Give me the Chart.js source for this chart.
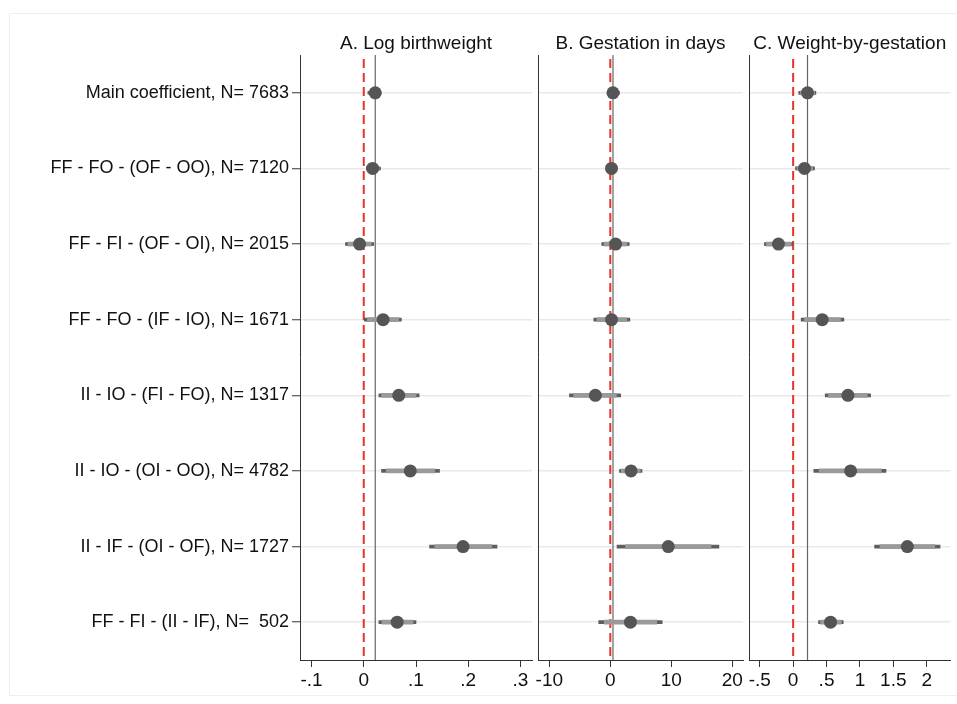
<!DOCTYPE html>
<html>
<head>
<meta charset="utf-8">
<script src="https://cdn.jsdelivr.net/npm/chart.js@4.4.1/dist/chart.umd.min.js"></script>
<style>
  body { margin: 0; background: #fff; }
  #wrap { position: relative; width: 957px; height: 704px; }
  #wrap canvas { position: absolute; left: 0; top: 0; }
</style>
</head>
<body>
<div id="wrap">
  <canvas id="panelA" width="957" height="704"></canvas>
  <canvas id="panelB" width="957" height="704"></canvas>
  <canvas id="panelC" width="957" height="704"></canvas>
</div>
<script>
// rows (top to bottom)
const categories = [
  'Main coefficient, N= 7683',
  'FF - FO - (OF - OO), N= 7120',
  'FF - FI - (OF - OI), N= 2015',
  'FF - FO - (IF - IO), N= 1671',
  'II - IO - (FI - FO), N= 1317',
  'II - IO - (OI - OO), N= 4782',
  'II - IF - (OI - OF), N= 1727',
  'FF - FI - (II - IF), N=  502'
];

// A. Log birthweight
const titleA = 'A. Log birthweight';
const coefA = [0.022, 0.017, -0.008, 0.037, 0.067, 0.089, 0.19, 0.064];
const lo95A = [0.008, 0.005, -0.035, 0.001, 0.029, 0.034, 0.126, 0.029];
const hi95A = [0.033, 0.032, 0.019, 0.072, 0.106, 0.145, 0.255, 0.100];
const lo90A = [0.011, 0.007, -0.030, 0.007, 0.034, 0.043, 0.136, 0.035];
const hi90A = [0.031, 0.029, 0.014, 0.067, 0.100, 0.136, 0.245, 0.094];
const tickValsA = [-0.1, 0, 0.1, 0.2, 0.3];
const tickLabelsA = ['-.1', '0', '.1', '.2', '.3'];

// B. Gestation in days
const titleB = 'B. Gestation in days';
const coefB = [0.44, 0.2, 0.87, 0.2, -2.45, 3.4, 9.5, 3.3];
const lo95B = [-0.5, -0.3, -1.4, -2.7, -6.7, 1.5, 1.1, -1.9];
const hi95B = [1.5, 0.6, 3.1, 3.2, 1.7, 5.2, 17.8, 8.5];
const lo90B = [-0.3, -0.2, -1.0, -2.2, -6.0, 1.8, 2.5, -1.0];
const hi90B = [1.2, 0.5, 2.7, 2.7, 1.0, 4.9, 16.5, 7.6];
const tickValsB = [-10, 0, 10, 20];
const tickLabelsB = ['-10', '0', '10', '20'];

// C. Weight-by-gestation
const titleC = 'C. Weight-by-gestation';
const coefC = [0.215, 0.17, -0.22, 0.435, 0.82, 0.86, 1.71, 0.56];
const lo95C = [0.084, 0.035, -0.43, 0.12, 0.48, 0.31, 1.22, 0.38];
const hi95C = [0.34, 0.32, 0.0, 0.76, 1.16, 1.39, 2.2, 0.75];
const lo90C = [0.11, 0.06, -0.40, 0.17, 0.53, 0.39, 1.30, 0.41];
const hi90C = [0.32, 0.29, -0.03, 0.71, 1.11, 1.32, 2.12, 0.72];
const tickValsC = [-0.5, 0, 0.5, 1, 1.5, 2];
const tickLabelsC = ['-.5', '0', '.5', '1', '1.5', '2'];

const FONT = "Helvetica, 'Liberation Sans', Arial, sans-serif";

// reference lines (zero + main coefficient), title and outer frame
const decor = {
  id: 'decor',
  beforeDatasetsDraw(chart, args, opts) {
    const { ctx, chartArea: a, scales } = chart;
    const x = scales.x;
    ctx.save();
    // main coefficient line
    const xm = x.getPixelForValue(opts.main);
    ctx.strokeStyle = '#666';
    ctx.lineWidth = 1.2;
    ctx.beginPath();
    ctx.moveTo(xm, a.top);
    ctx.lineTo(xm, a.bottom);
    ctx.stroke();
    // zero line
    const x0 = x.getPixelForValue(0);
    ctx.strokeStyle = '#e8322b';
    ctx.lineWidth = 2;
    ctx.setLineDash([9, 5]);
    ctx.beginPath();
    ctx.moveTo(x0, a.top + 4);
    ctx.lineTo(x0, a.bottom);
    ctx.stroke();
    ctx.restore();
  },
  afterDraw(chart, args, opts) {
    const { ctx, chartArea: a } = chart;
    ctx.save();
    ctx.fillStyle = '#111';
    ctx.font = '19px ' + FONT;
    ctx.textAlign = 'center';
    ctx.textBaseline = 'alphabetic';
    ctx.fillText(opts.title, (a.left + a.right) / 2, 49);
    if (opts.frame) {
      ctx.strokeStyle = '#eeeeee';
      ctx.lineWidth = 1;
      ctx.strokeRect(9.5, 13.5, 960, 682);
    }
    ctx.restore();
  }
};

function makePanel(id, p) {
  const range = (lo, hi) => lo.map((v, i) => [v, hi[i]]);
  return new Chart(document.getElementById(id), {
    type: 'bar',
    data: {
      labels: categories,
      datasets: [
        {
          type: 'line', data: p.coef, showLine: false,
          pointRadius: 6.5, pointHoverRadius: 6.5, pointBorderWidth: 0,
          pointBackgroundColor: '#555555', order: 0
        },
        {
          data: range(p.lo90, p.hi90), backgroundColor: '#9a9a9a',
          barThickness: 4, borderWidth: 0, borderSkipped: false, grouped: false, order: 1
        },
        {
          data: range(p.lo95, p.hi95), backgroundColor: '#5e5e5e',
          barThickness: 3, borderWidth: 0, borderSkipped: false, grouped: false, order: 2
        }
      ]
    },
    options: {
      indexAxis: 'y',
      responsive: false,
      animation: false,
      layout: { padding: p.padding },
      plugins: {
        legend: { display: false },
        tooltip: { enabled: false },
        decor: { main: p.coef[0], title: p.title, frame: p.frame }
      },
      scales: {
        x: {
          type: 'linear',
          min: p.min, max: p.max,
          afterBuildTicks: s => { s.ticks = p.tickVals.map(v => ({ value: v })); },
          afterFit: s => { s.height = 44; },
          ticks: {
            autoSkip: false, maxRotation: 0, padding: 2, color: '#111',
            font: { family: FONT, size: 19 },
            callback: (v, i) => p.tickLabels[i]
          },
          grid: { drawOnChartArea: false, drawTicks: true, tickLength: 7, tickColor: '#333', color: '#333' },
          border: { display: true, color: '#333', width: 1 }
        },
        y: {
          type: 'category',
          offset: true,
          afterFit: s => { s.width = p.yWidth; },
          ticks: {
            display: p.showLabels, padding: 3, color: '#111',
            font: { family: FONT, size: 18 }
          },
          grid: {
            offset: false, color: '#e9e9e9', lineWidth: 1.5,
            drawTicks: p.showLabels, tickLength: 8, tickColor: '#333', tickWidth: 1
          },
          border: { display: true, color: '#333', width: 1 }
        }
      }
    },
    plugins: [decor]
  });
}

makePanel('panelA', {
  title: titleA, coef: coefA, lo95: lo95A, hi95: hi95A, lo90: lo90A, hi90: hi90A,
  tickVals: tickValsA, tickLabels: tickLabelsA, min: -0.122, max: 0.322,
  padding: { left: 0, right: 425, top: 55, bottom: 0 }, yWidth: 300, showLabels: true, frame: true
});
makePanel('panelB', {
  title: titleB, coef: coefB, lo95: lo95B, hi95: hi95B, lo90: lo90B, hi90: hi90B,
  tickVals: tickValsB, tickLabels: tickLabelsB, min: -11.85, max: 21.75,
  padding: { left: 538, right: 214, top: 55, bottom: 0 }, yWidth: 0, showLabels: false, frame: false
});
makePanel('panelC', {
  title: titleC, coef: coefC, lo95: lo95C, hi95: hi95C, lo90: lo90C, hi90: hi90C,
  tickVals: tickValsC, tickLabels: tickLabelsC, min: -0.661, max: 2.356,
  padding: { left: 749, right: 2, top: 55, bottom: 0 }, yWidth: 0, showLabels: false, frame: false
});
</script>
</body>
</html>
